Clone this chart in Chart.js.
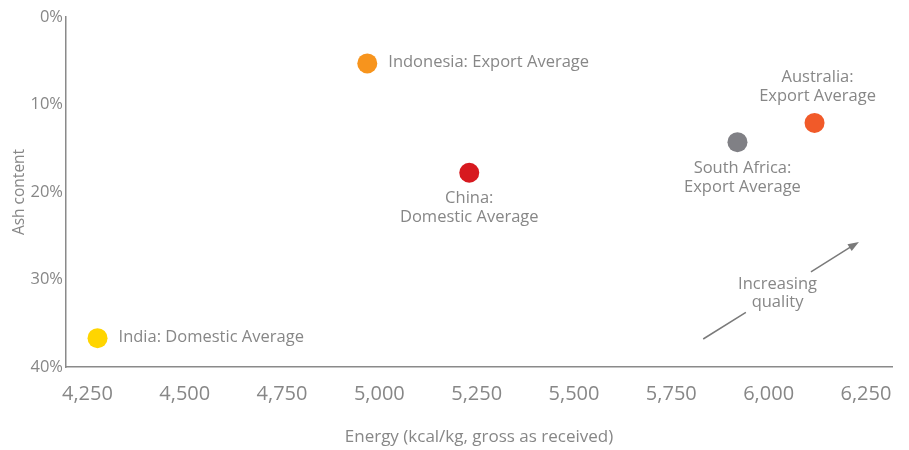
<!DOCTYPE html>
<html>
<head>
<meta charset="utf-8">
<script src="https://cdn.jsdelivr.net/npm/chart.js@4.4.1/dist/chart.umd.min.js"></script>
<style>
  html, body { margin: 0; padding: 0; background: #fff; }
  #wrap { width: 909px; height: 450px; }
</style>
</head>
<body>
<div id="wrap"><canvas id="chartAsh" width="909" height="450"></canvas></div>
<script>
// ---- data ----
const countries = ["Indonesia: Export Average", "China:\nDomestic Average", "India: Domestic Average",
  "South Africa:\nExport Average", "Australia:\nExport Average"];
const energy = [4969, 5231, 4276, 5920, 6118];     // kcal/kg
const ashPct = [5.3, 17.8, 36.7, 14.3, 12.1];       // %
const pointColors = ["#F7941D", "#D7191F", "#FFD500", "#808085", "#F15A29"];
const xTicks = [4250, 4500, 4750, 5000, 5250, 5500, 5750, 6000, 6250];
const yTicks = [0, 10, 20, 30, 40];
const arrowFrom = { x: 5832, y: 36.8 };
const arrowTo = { x: 6232, y: 25.7 };
const arrowText = ["Increasing", "quality"];
const arrowTextAt = { x: 6023, y: 31.6 };

// where each label sits relative to its dot
const labelPlace = ["right", "below", "right", "below", "above"];

const TEXT = "#878787";
const FONT = "'Open Sans', sans-serif";

const pointLabels = {
  id: "pointLabels",
  afterDatasetsDraw(chart) {
    const ctx = chart.ctx;
    const meta = chart.getDatasetMeta(0);
    ctx.save();
    ctx.fillStyle = TEXT;
    ctx.font = "16.5px " + FONT;
    meta.data.forEach((pt, i) => {
      const lines = countries[i].split("\n");
      const place = labelPlace[i];
      ctx.textBaseline = "middle";
      if (place === "right") {
        ctx.textAlign = "left";
        ctx.fillText(lines[0], pt.x + 21, pt.y - 1);
      } else if (place === "below") {
        ctx.textAlign = "center";
        const dx = i === 3 ? 5 : 0;
        lines.forEach((l, k) => ctx.fillText(l, pt.x + dx, pt.y + 26 + k * 19));
      } else {
        ctx.textAlign = "center";
        lines.forEach((l, k) => ctx.fillText(l, pt.x + 3, pt.y - 46 + k * 19));
      }
    });

    // quality arrow
    const xs = chart.scales.x, ys = chart.scales.y;
    const x0 = xs.getPixelForValue(arrowFrom.x), y0 = ys.getPixelForValue(arrowFrom.y);
    const x1 = xs.getPixelForValue(arrowTo.x), y1 = ys.getPixelForValue(arrowTo.y);
    const lerp = (t) => [x0 + (x1 - x0) * t, y0 + (y1 - y0) * t];
    ctx.strokeStyle = "#7a7a7a";
    ctx.lineWidth = 1.5;
    const a = lerp(0), b = lerp(0.274), c = lerp(0.692), d = lerp(0.95);
    ctx.beginPath();
    ctx.moveTo(a[0], a[1]); ctx.lineTo(b[0], b[1]);
    ctx.moveTo(c[0], c[1]); ctx.lineTo(d[0], d[1]);
    ctx.stroke();
    const ang = Math.atan2(y1 - y0, x1 - x0);
    ctx.fillStyle = "#7a7a7a";
    ctx.beginPath();
    ctx.moveTo(x1, y1);
    ctx.lineTo(x1 - 11 * Math.cos(ang) + 4 * Math.sin(ang), y1 - 11 * Math.sin(ang) - 4 * Math.cos(ang));
    ctx.lineTo(x1 - 11 * Math.cos(ang) - 4 * Math.sin(ang), y1 - 11 * Math.sin(ang) + 4 * Math.cos(ang));
    ctx.closePath();
    ctx.fill();

    ctx.fillStyle = TEXT;
    ctx.textAlign = "center";
    ctx.textBaseline = "middle";
    const tx = xs.getPixelForValue(arrowTextAt.x), ty = ys.getPixelForValue(arrowTextAt.y);
    arrowText.forEach((l, k) => ctx.fillText(l, tx, ty - 9 + k * 18));
    ctx.restore();
  },
};

new Chart(document.getElementById("chartAsh"), {
  type: "scatter",
  data: {
    datasets: [{
      data: energy.map((e, i) => ({ x: e, y: ashPct[i] })),
      pointBackgroundColor: pointColors,
      pointBorderWidth: 0,
      pointRadius: 10,
      pointHoverRadius: 10,
    }],
  },
  options: {
    responsive: false,
    animation: false,
    events: [],
    layout: { padding: { top: 17, right: 17, left: 0, bottom: 0 } },
    plugins: { legend: { display: false }, tooltip: { enabled: false } },
    scales: {
      x: {
        type: "linear",
        min: 4195,
        max: 6317,
        afterBuildTicks: (scale) => { scale.ticks = xTicks.map((v) => ({ value: v })); },
        afterFit: (scale) => { scale.height = 83; },
        grid: { display: false, drawTicks: false },
        border: { display: true, color: "#8a8a8a", width: 1.5 },
        ticks: {
          color: TEXT,
          font: { family: FONT, size: 20 },
          padding: 15,
          callback: (v) => v.toLocaleString("en-US"),
        },
        title: {
          display: true,
          text: "Energy (kcal/kg, gross as received)",
          color: TEXT,
          font: { family: FONT, size: 17, lineHeight: 1.2 },
          padding: { top: 0, bottom: 3 },
        },
      },
      y: {
        reverse: true,
        min: 0,
        max: 40,
        afterBuildTicks: (scale) => { scale.ticks = yTicks.map((v) => ({ value: v })); },
        afterFit: (scale) => { scale.width = 66; },
        grid: { display: false, drawTicks: false },
        border: { display: true, color: "#8a8a8a", width: 1.5 },
        ticks: {
          color: TEXT,
          font: { family: FONT, size: 16.5 },
          padding: 3,
          callback: (v) => v + "%",
        },
        title: {
          display: true,
          text: "Ash content",
          color: TEXT,
          font: { family: FONT, size: 15.5, lineHeight: 1.2 },
          padding: { top: 10, bottom: 0 },
        },
      },
    },
  },
  plugins: [pointLabels],
});
</script>
</body>
</html>
